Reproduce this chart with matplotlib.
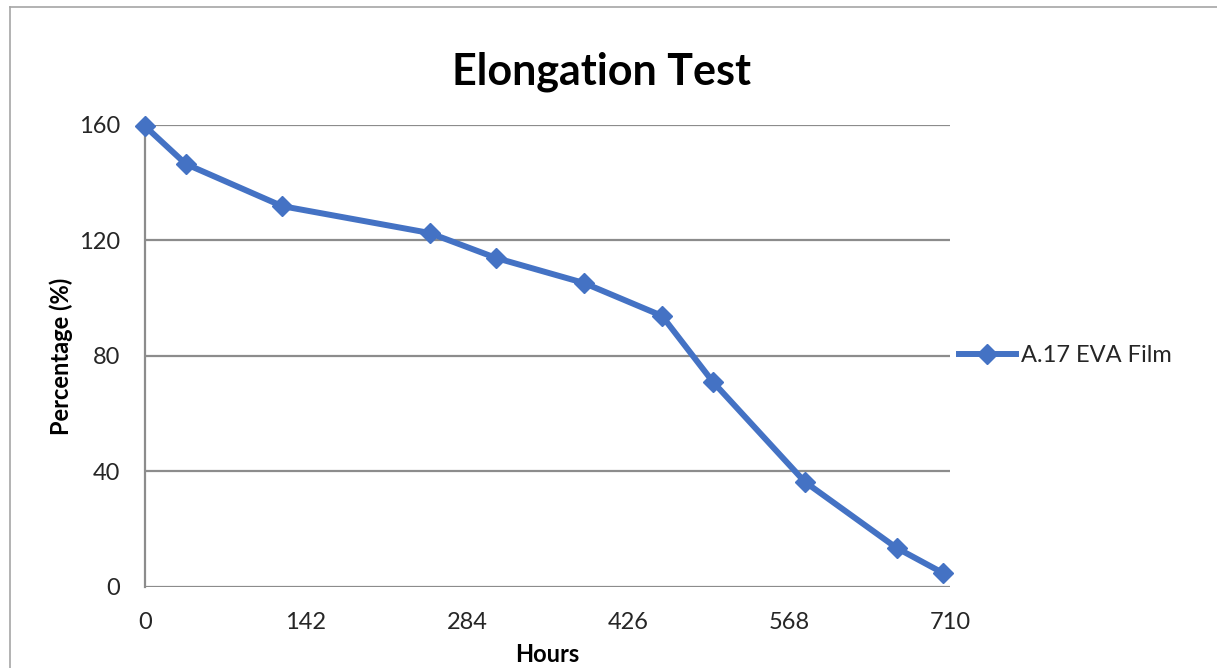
import matplotlib

matplotlib.use("Agg")
import matplotlib.pyplot as plt
from matplotlib.lines import Line2D

# Elongation test data
HOURS = [0, 36, 121, 251, 310, 387, 456, 501, 582, 663, 704]
PERCENT = [159.6, 146.5, 131.9, 122.6, 113.9, 105.3, 93.9, 71.0, 36.4, 13.5, 4.8]
X_TICKS = [0, 142, 284, 426, 568, 710]
Y_TICKS = [0, 40, 80, 120, 160]
SERIES = "A.17 EVA Film"

BLUE = "#4472c4"
GRID = "#8c8c8c"
INK = "#000000"
TXT = "#262626"

plt.rcParams["font.family"] = ["Lato", "DejaVu Sans"]

fig = plt.figure(figsize=(12.17, 6.68), dpi=100, facecolor="white")
ax = fig.add_axes([0.1191, 0.1213, 0.6615, 0.6916])

# outer chart frame: only its top and left edges fall inside the picture
fx, fy = 10 / 1217, 1 - 7 / 668
for xs, ys in (([fx, 1.0], [fy, fy]), ([fx, fx], [0.0, fy])):
    fig.add_artist(Line2D(xs, ys, transform=fig.transFigure,
                          color="#a6a6a6", linewidth=1.2))

ax.set_xlim(0, 710)
ax.set_ylim(0, 160)
ax.set_xticks(X_TICKS)
ax.set_yticks(Y_TICKS)
ax.yaxis.grid(True, color=GRID, linewidth=1.6)
ax.set_axisbelow(True)
for s in ("top", "right", "bottom"):
    ax.spines[s].set_visible(False)
ax.spines["left"].set_color(GRID)
ax.spines["left"].set_linewidth(1.6)
ax.tick_params(length=0, labelsize=17, labelcolor=TXT)
ax.tick_params(axis="y", pad=18)
ax.tick_params(axis="x", pad=18)

ax.plot(HOURS, PERCENT, color=BLUE, linewidth=4.3, marker="D", markersize=10.5,
        label=SERIES, clip_on=False, zorder=3)

fig.text(601 / 1217, 1 - 72 / 668, "Elongation Test", fontsize=31,
         fontweight="bold", color=INK, ha="center", va="center")
ax.set_xlabel("Hours", fontsize=17, fontweight="bold", color=INK, labelpad=7)
ax.set_ylabel("Percentage (%)", fontsize=17, fontweight="bold", color=INK, labelpad=4)

ax.legend(loc="center left", bbox_to_anchor=(0.985, 0.5), frameon=False,
          fontsize=17, handlelength=2.4, handletextpad=0.2, labelcolor=TXT)

fig.savefig("out.png", dpi=100, facecolor="white")
